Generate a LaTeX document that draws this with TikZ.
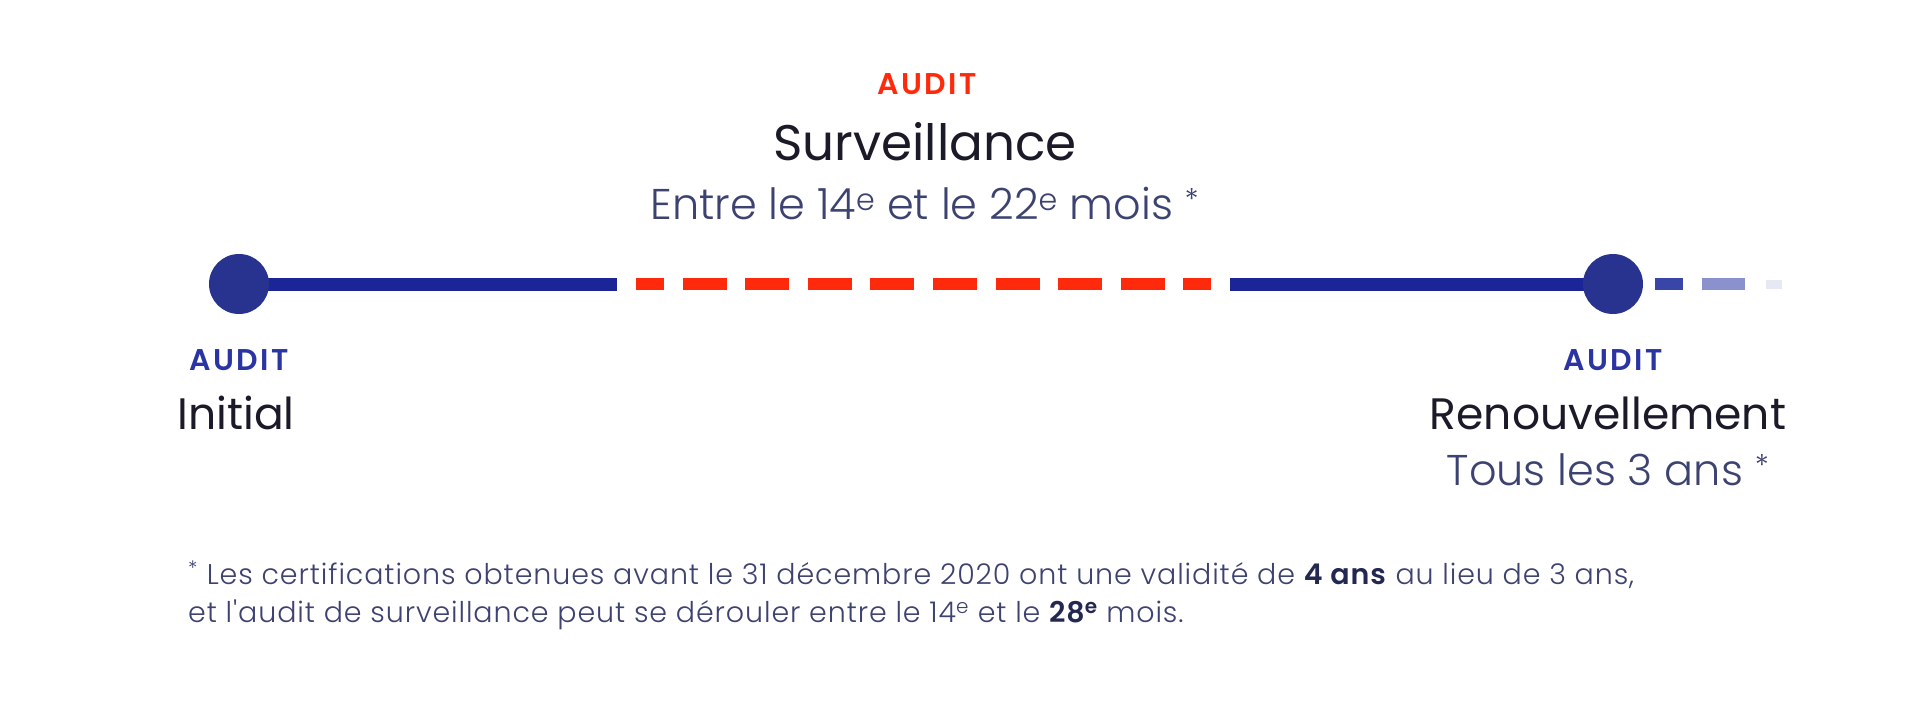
\documentclass[tikz,border=0pt]{standalone}
\usepackage{fontspec}
\setmainfont{Poppins}
\newfontfamily\poplight{Poppins Light}
\newfontfamily\popsemi{Poppins SemiBold}[LetterSpace=8]
\newfontfamily\footfont{Poppins Light}[BoldFont={Poppins SemiBold},LetterSpace=3.2]
\definecolor{lineblue}{HTML}{1C2596}
\definecolor{dotblue}{HTML}{27338F}
\definecolor{labelblue}{HTML}{2A35A3}
\definecolor{auditred}{HTML}{FF2A0C}
\definecolor{titledark}{HTML}{1A1A28}
\definecolor{subnavy}{HTML}{3D4371}
\definecolor{footnavy}{HTML}{3E4270}
\definecolor{footbold}{HTML}{232851}
\definecolor{fadeA}{HTML}{3A45A8}
\definecolor{fadeB}{HTML}{8B91CC}
\definecolor{fadeC}{HTML}{E6E8F3}
\begin{document}
\begin{tikzpicture}[x=1pt,y=-1pt,
  blueline/.style={draw=lineblue,line width=13pt,line cap=butt},
  redline/.style={draw=auditred,line width=12pt,line cap=butt,dash pattern=on 44pt off 18.6pt,dash phase=16pt},
  dot/.style={circle,fill=dotblue,minimum size=60pt,inner sep=0pt},
  audit/.style={font=\popsemi\fontsize{30}{36}\selectfont,inner sep=0pt},
  title/.style={font=\fontsize{44}{52}\selectfont,text=titledark,inner sep=0pt},
  subtitle/.style={font=\poplight\fontsize{43}{50}\selectfont,text=subnavy,inner sep=0pt},
  foot/.style={font=\footfont\fontsize{28.5}{38}\selectfont,text=footnavy,inner sep=0pt,align=left}
]
\useasboundingbox[fill=white] (0,0) rectangle (1906,722);
% timeline coordinates
\coordinate (p1) at (239,284);
\coordinate (p2) at (1613,284);
\coordinate (b1) at (617,284);
\coordinate (r1) at (636,284);
\coordinate (r2) at (1211,284);
\coordinate (b2) at (1230,284);
\coordinate (f1a) at (1655,284);
\coordinate (f1b) at (1683,284);
\coordinate (f2a) at (1702,284);
\coordinate (f2b) at (1745,284);
\coordinate (f3a) at (1766,284);
\coordinate (f3b) at (1782,284);
% lines
\draw[blueline] (p1) -- (b1);
\draw[redline] (r1) -- (r2);
\draw[blueline] (b2) -- (p2);
\draw[draw=fadeA,line width=12pt] (f1a) -- (f1b);
\draw[draw=fadeB,line width=12pt] (f2a) -- (f2b);
\draw[draw=fadeC,line width=9pt] (f3a) -- (f3b);
% dots
\node[dot] (c1) at (p1) {};
\node[dot] (c2) at (p2) {};
% top labels
\node[audit,text=auditred] (ta) at (927,84) {AUDIT};
\node[title,font=\fontsize{50}{60}\selectfont] (tt) at (925,142) {Surveillance};
\node[subtitle] (ts) at (925,204) {Entre le 14\textsuperscript{e} et le 22\textsuperscript{e} mois \textsuperscript{*}};
% left labels
\node[audit,text=labelblue] (la) at (239,360) {AUDIT};
\node[title] (lt) at (236,413) {Initial};
% right labels
\node[audit,text=labelblue] (ra) at (1613,360) {AUDIT};
\node[title] (rt) at (1608,413) {Renouvellement};
\node[subtitle] (rs) at (1608,470) {Tous les 3 ans \textsuperscript{*}};
% footnote
\node[foot,anchor=west] (fn) at (188,595) {\textsuperscript{*} Les certifications obtenues avant le 31 décembre 2020 ont une validité de \textcolor{footbold}{\textbf{4 ans}} au lieu de 3 ans,\\
et l'audit de surveillance peut se dérouler entre le 14\textsuperscript{e} et le \textcolor{footbold}{\textbf{28\textsuperscript{e}}} mois.};
\end{tikzpicture}
\end{document}
